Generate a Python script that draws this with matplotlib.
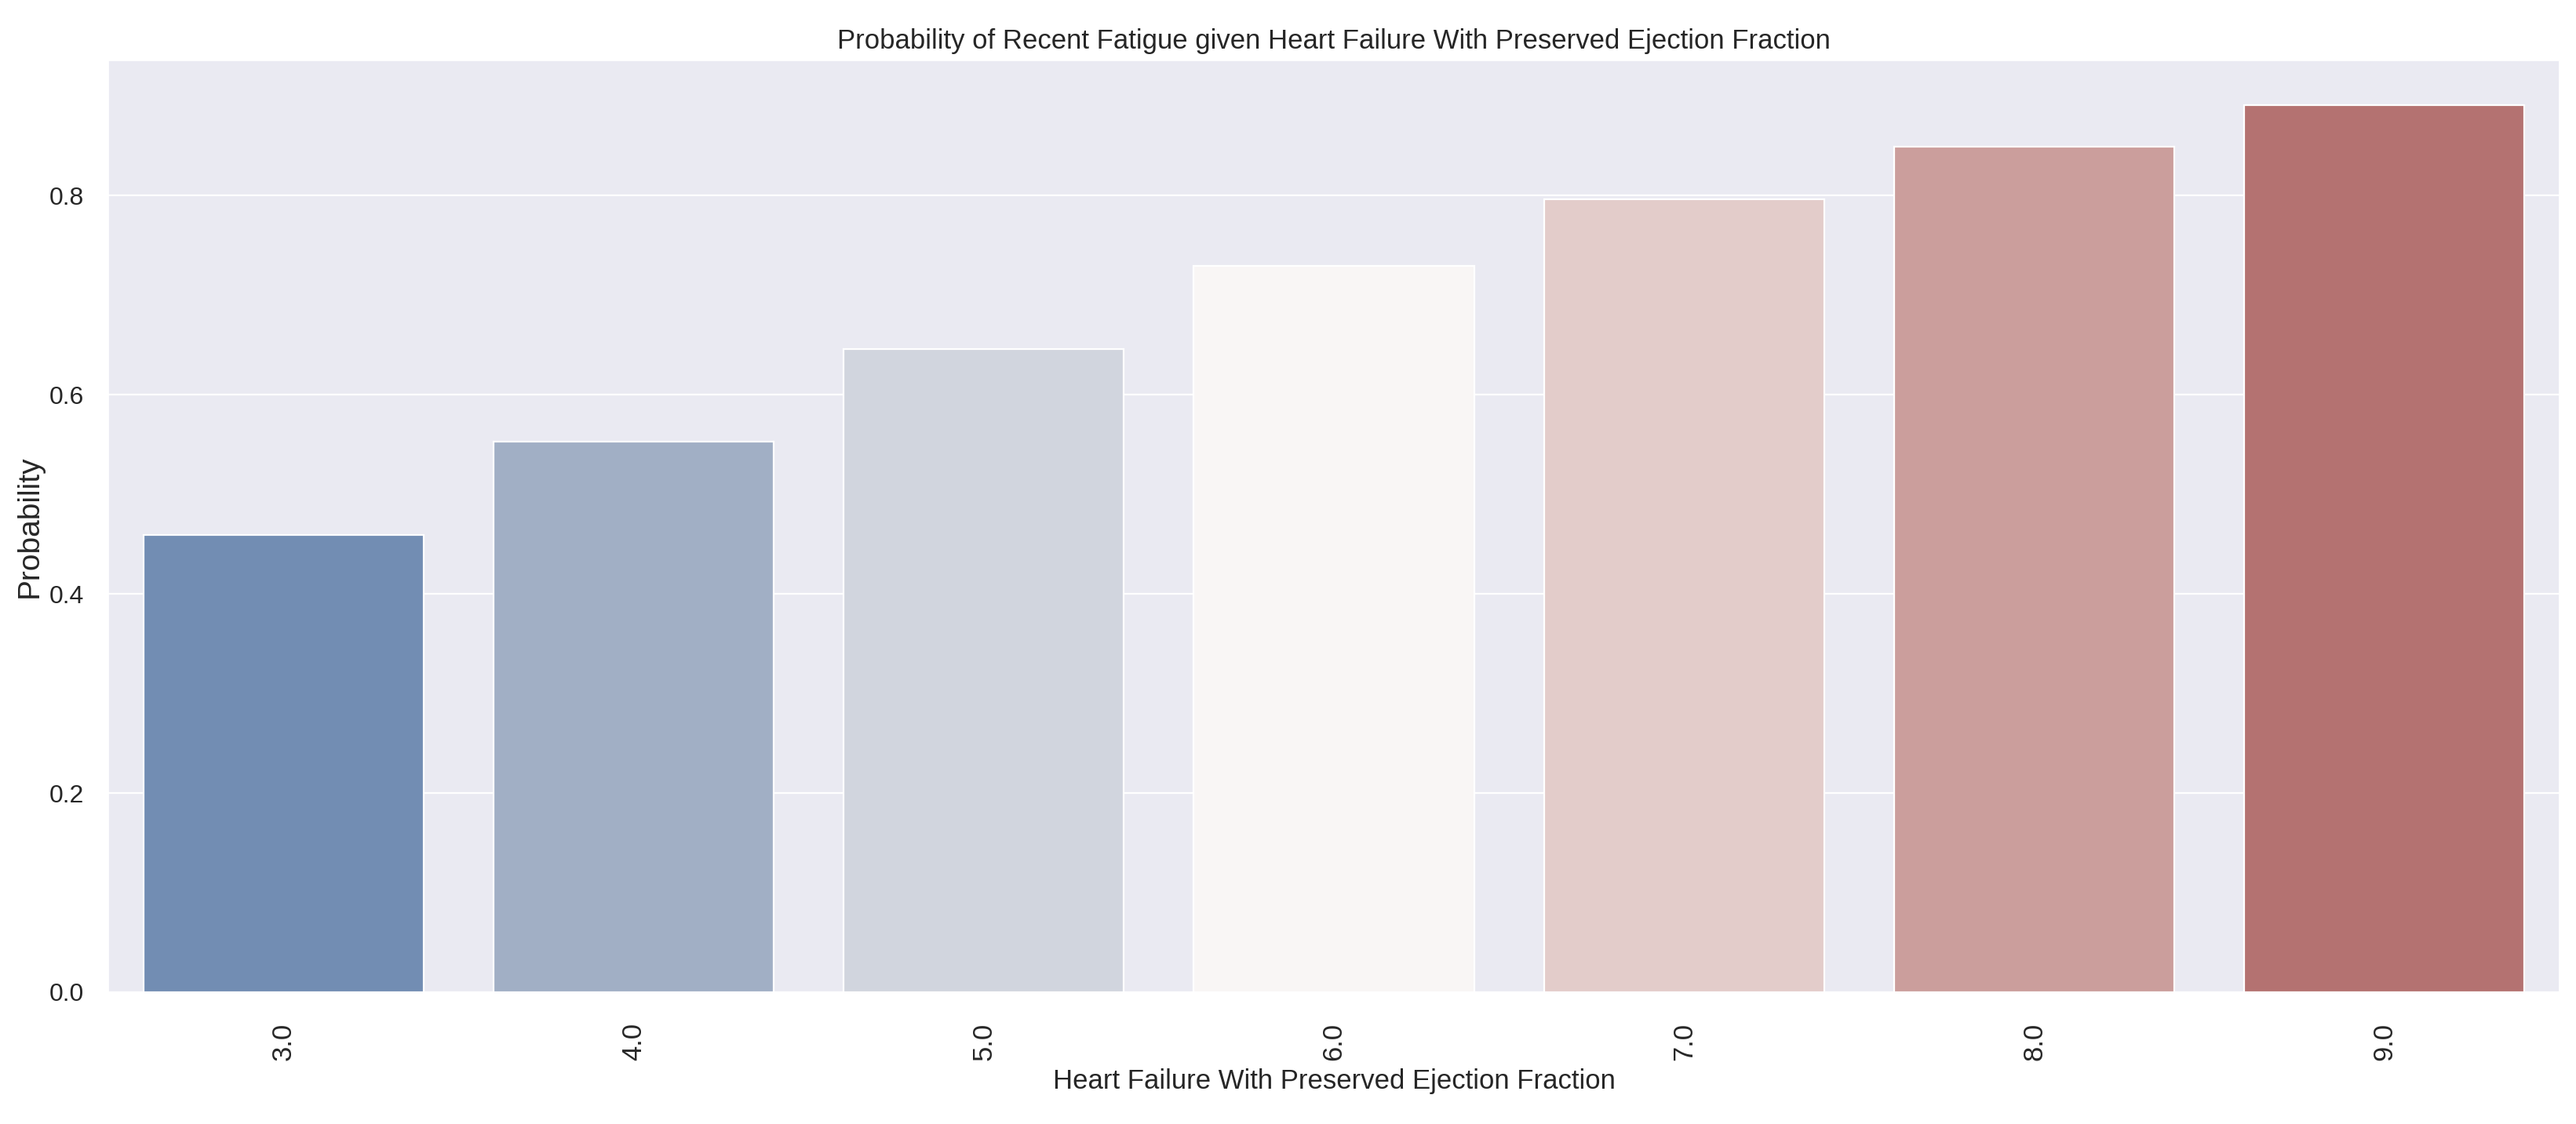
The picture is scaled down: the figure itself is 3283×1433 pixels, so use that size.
import matplotlib
matplotlib.use("Agg")
import matplotlib.pyplot as plt
import seaborn as sns
import pandas as pd

categories = ["3.0", "4.0", "5.0", "6.0", "7.0", "8.0", "9.0"]
probabilities = [0.459, 0.553, 0.646, 0.729, 0.796, 0.849, 0.891]
yticks = [0.0, 0.2, 0.4, 0.6, 0.8]
ytick_labels = ["0.0", "0.2", "0.4", "0.6", "0.8"]

title = "Probability of Recent Fatigue given Heart Failure With Preserved Ejection Fraction"
xlabel = "Heart Failure With Preserved Ejection Fraction"
ylabel = "Probability"

sns.set_theme(style="darkgrid")
FAM = ["Liberation Sans", "DejaVu Sans"]
plt.rcParams["font.family"] = FAM

DPI = 100
fig = plt.figure(figsize=(3283 / DPI, 1433 / DPI), dpi=DPI)
ax = fig.add_axes([138 / 3283, 1 - 1265 / 1433, (3262 - 138) / 3283, (1265 - 77) / 1433])

df = pd.DataFrame({"x": categories, "y": probabilities})
sns.barplot(data=df, x="x", y="y", hue="x", palette="vlag", legend=False, ax=ax)

ax.set_title(title, fontsize=25, color="0.15", pad=11, family=FAM)
ax.set_xlabel(xlabel, fontsize=25, color="0.15", labelpad=7, family=FAM)
ax.set_ylabel(ylabel, fontsize=28, color="0.15", labelpad=5.5, family=FAM)

ax.set_yticks(yticks)
ax.set_yticklabels(ytick_labels, fontsize=23, family=FAM)
ax.tick_params(axis="y", pad=22, length=0)
ax.set_xticks(range(len(categories)))
ax.set_xticklabels(categories, rotation=90, fontsize=25, family=FAM)
ax.tick_params(axis="x", pad=28, length=0)
ax.grid(axis="y", color="white", linewidth=1.6)
ax.grid(axis="x", visible=False)
for p in ax.patches:
    p.set_edgecolor("white")
    p.set_linewidth(1.6)

fig.savefig("out.png", dpi=DPI)
